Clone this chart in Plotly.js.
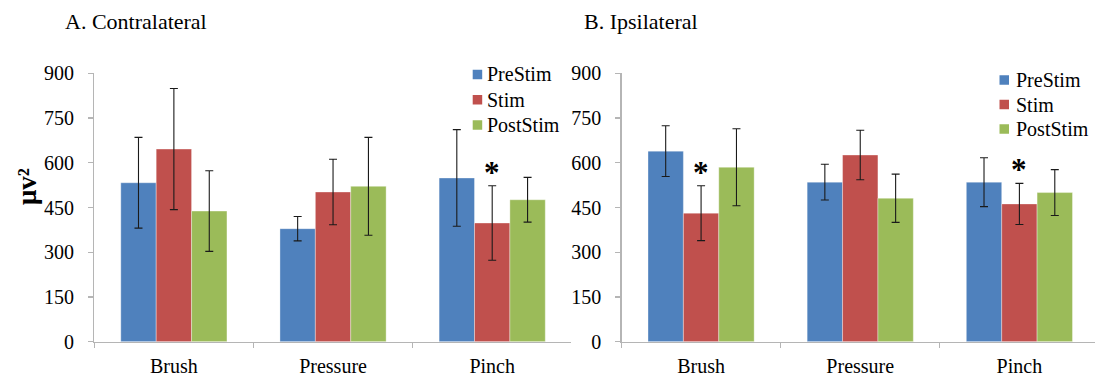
<!DOCTYPE html>
<html>
<head>
<meta charset="utf-8">
<script src="https://cdn.plot.ly/plotly-3.0.1.min.js"></script>
<style>html,body{margin:0;padding:0;background:#fff;}#chart{width:1095px;height:381px;}</style>
</head>
<body>
<div id="chart"></div>
<script>
// ---- data ----
const categories = ['Brush', 'Pressure', 'Pinch'];
const seriesNames = ['PreStim', 'Stim', 'PostStim'];
const panelTitles = ['A. Contralateral', 'B. Ipsilateral'];
const yTitle = '\u03bcv\u00b2';
const yTicks = [0, 150, 300, 450, 600, 750, 900];

const contraPre = [533, 379, 549];
const contraPreErr = [152, 41, 162];
const contraStim = [646, 502, 398];
const contraStimErr = [203, 110, 125];
const contraPost = [438, 521, 476];
const contraPostErr = [135, 164, 75];

const ipsiPre = [639, 535, 535];
const ipsiPreErr = [85, 60, 82];
const ipsiStim = [431, 626, 462];
const ipsiStimErr = [92, 83, 69];
const ipsiPost = [585, 481, 500];
const ipsiPostErr = [129, 81, 77];

// significance markers (on the Stim bar)
const contraSig = ['Pinch'];
const ipsiSig = ['Brush', 'Pinch'];

// ---- styling ----
const W = 1095, H = 381;
const colors = ['#4F81BD', '#C0504D', '#9BBB59'];
const FONT = 'Liberation Serif';
const axisGray = '#B5B5B5';

const panels = [
  {vals: [contraPre, contraStim, contraPost], errs: [contraPreErr, contraStimErr, contraPostErr], xa: 'x', ya: 'y', sig: contraSig},
  {vals: [ipsiPre, ipsiStim, ipsiPost], errs: [ipsiPreErr, ipsiStimErr, ipsiPostErr], xa: 'x2', ya: 'y2', sig: ipsiSig}
];

const traces = [];
panels.forEach(p => {
  p.vals.forEach((v, i) => {
    traces.push({
      type: 'bar', x: categories, y: v, name: seriesNames[i],
      xaxis: p.xa, yaxis: p.ya,
      marker: {color: colors[i], line: {color: 'rgba(255,255,255,0.35)', width: 1}},
      error_y: {type: 'data', array: p.errs[i], visible: true, color: '#1a1a1a', thickness: 1.1, width: 4},
      showlegend: false, hoverinfo: 'x+y'
    });
  });
});

function xAxis(domain, range) {
  return {
    domain: domain, range: range, type: 'category',
    showline: true, linecolor: axisGray, linewidth: 1.3,
    ticks: 'outside', tickson: 'boundaries', ticklen: 5, tickcolor: axisGray, tickwidth: 1.3,
    showgrid: false, zeroline: false,
    tickfont: {family: FONT, size: 20, color: '#000'},
    ticklabelstandoff: 6
  };
}
function yAxis(anchor) {
  return {
    domain: [1 - 341.7 / H, 1 - 73.3 / H], range: [0, 900], anchor: anchor,
    tickvals: yTicks, ticktext: yTicks.map(String),
    showline: true, linecolor: axisGray, linewidth: 1.3,
    ticks: 'outside', ticklen: 5, tickcolor: axisGray, tickwidth: 1.3,
    showgrid: false, zeroline: false,
    tickfont: {family: FONT, size: 20, color: '#000'},
    ticklabelstandoff: 10
  };
}

const catW = 159;
const lx0 = 94.3, rx0 = 621.5;
const annotations = [];
const shapes = [];

// panel titles
[[62.5, panelTitles[0]], [581.5, panelTitles[1]]].forEach(([px, t]) => {
  annotations.push({xref: 'paper', yref: 'paper', x: px / W, y: 1 - 21 / H, xanchor: 'left', yanchor: 'middle',
    text: t, showarrow: false, font: {family: FONT, size: 22, color: '#000'}});
});

// y-axis title
annotations.push({xref: 'paper', yref: 'paper', x: 27 / W, y: 1 - 187 / H, xanchor: 'center', yanchor: 'middle',
  text: '<b>' + yTitle + '</b>', textangle: -90, showarrow: false, font: {family: FONT, size: 27, color: '#000'}});

// significance asterisks above the Stim error bar
panels.forEach(p => {
  p.sig.forEach(c => {
    const k = categories.indexOf(c);
    annotations.push({xref: p.xa, yref: p.ya, x: c, y: p.vals[1][k] + p.errs[1][k], yshift: -6,
      xanchor: 'center', yanchor: 'bottom', text: '<b>*</b>', showarrow: false,
      font: {family: FONT, size: 31, color: '#000'}});
  });
});

// legends (one per panel)
const legends = [
  {sqX: 472.7, txtX: 485, rows: [74.5, 99.75, 125]},
  {sqX: 999.5, txtX: 1013.5, rows: [80, 104.5, 129]}
];
const sq = 9.5;
legends.forEach(L => {
  seriesNames.forEach((n, i) => {
    const cy = L.rows[i];
    shapes.push({type: 'rect', xref: 'paper', yref: 'paper',
      x0: L.sqX / W, x1: (L.sqX + sq) / W, y0: 1 - (cy + sq / 2) / H, y1: 1 - (cy - sq / 2) / H,
      fillcolor: colors[i], line: {width: 0}});
    annotations.push({xref: 'paper', yref: 'paper', x: L.txtX / W, y: 1 - cy / H, xanchor: 'left', yanchor: 'middle',
      text: n, showarrow: false, font: {family: FONT, size: 20, color: '#000'}});
  });
});

const layout = {
  width: W, height: H, margin: {l: 0, r: 0, t: 0, b: 0},
  paper_bgcolor: '#fff', plot_bgcolor: 'rgba(0,0,0,0)',
  font: {family: FONT, size: 20, color: '#000'},
  barmode: 'group', bargap: 0.333, bargroupgap: 0,
  showlegend: false,
  xaxis: xAxis([lx0 / W, (lx0 + 3 * catW) / W], [-0.5, 2.497]),
  yaxis: yAxis('x'),
  xaxis2: xAxis([rx0 / W, 1], [-0.5, -0.5 + (W - rx0) / catW - 0.003]),
  yaxis2: yAxis('x2'),
  annotations: annotations,
  shapes: shapes
};

Plotly.newPlot('chart', traces, layout, {displayModeBar: false, staticPlot: true});
</script>
</body>
</html>
